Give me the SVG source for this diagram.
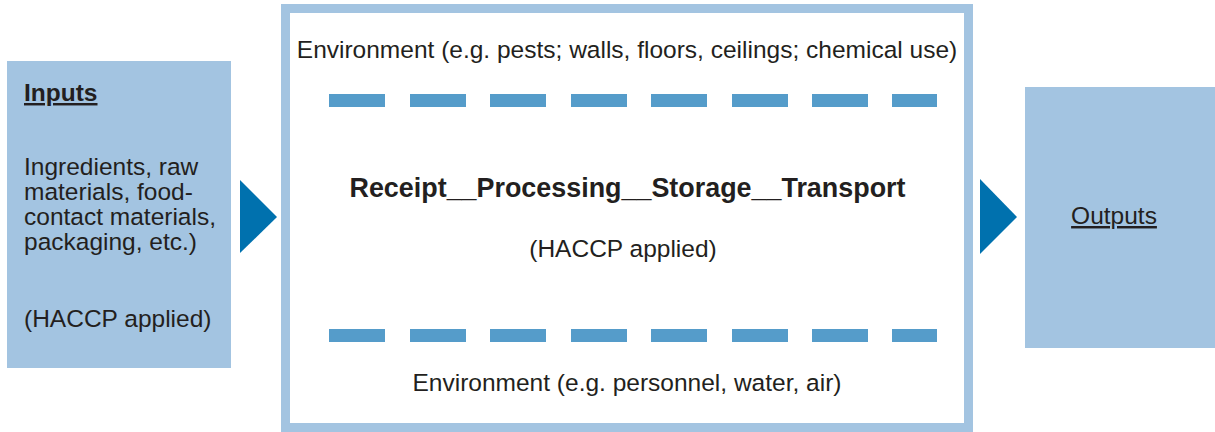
<svg xmlns="http://www.w3.org/2000/svg" width="1215" height="432" viewBox="0 0 1215 432">
<style>
.box{fill:#a3c4e1}
.t{font-family:"Liberation Sans",Arial,sans-serif;font-size:24.5px;fill:#231f20}
.b{font-weight:bold}
.h{font-size:26.9px}
.u{text-decoration:underline}
.arr{fill:#0071ae}
.dash{fill:#559cca}
</style>
<rect width="1215" height="432" fill="#ffffff"/>
<g id="inputs">
<rect class="box" x="7" y="61" width="224" height="307"/>
<text class="t b u" x="24" y="101">Inputs</text>
<text class="t" x="24" y="175">Ingredients, raw</text>
<text class="t" x="24" y="200">materials, food-</text>
<text class="t" x="24" y="225">contact materials,</text>
<text class="t" x="24" y="250">packaging, etc.)</text>
<text class="t" x="24" y="327">(HACCP applied)</text>
</g>
<g id="process">
<rect x="285.5" y="8.5" width="683" height="419" fill="#ffffff" stroke="#a3c4e1" stroke-width="9"/>
<text class="t" x="627" y="58" text-anchor="middle">Environment (e.g. pests; walls, floors, ceilings; chemical use)</text>
<g class="dash">
<rect x="329" y="94" width="56" height="13"/>
<rect x="410" y="94" width="56" height="13"/>
<rect x="490" y="94" width="56" height="13"/>
<rect x="571" y="94" width="56" height="13"/>
<rect x="651" y="94" width="56" height="13"/>
<rect x="732" y="94" width="56" height="13"/>
<rect x="812" y="94" width="56" height="13"/>
<rect x="892" y="94" width="45" height="13"/>
<rect x="329" y="329" width="56" height="13"/>
<rect x="410" y="329" width="56" height="13"/>
<rect x="490" y="329" width="56" height="13"/>
<rect x="571" y="329" width="56" height="13"/>
<rect x="651" y="329" width="56" height="13"/>
<rect x="732" y="329" width="56" height="13"/>
<rect x="812" y="329" width="56" height="13"/>
<rect x="892" y="329" width="45" height="13"/>
</g>
<text class="t b h" x="627.5" y="197" text-anchor="middle">Receipt__Processing__Storage__Transport</text>
<text class="t" x="623" y="257" text-anchor="middle">(HACCP applied)</text>
<text class="t" x="627" y="391" text-anchor="middle">Environment (e.g. personnel, water, air)</text>
</g>
<g id="outputs">
<rect class="box" x="1025" y="87" width="190" height="261"/>
<text class="t u" x="1114" y="224" text-anchor="middle">Outputs</text>
</g>
<g id="connectors">
<polygon class="arr" points="240,180 277,217 240,253"/>
<polygon class="arr" points="980,179 1017,217 980,254"/>
</g>
</svg>
